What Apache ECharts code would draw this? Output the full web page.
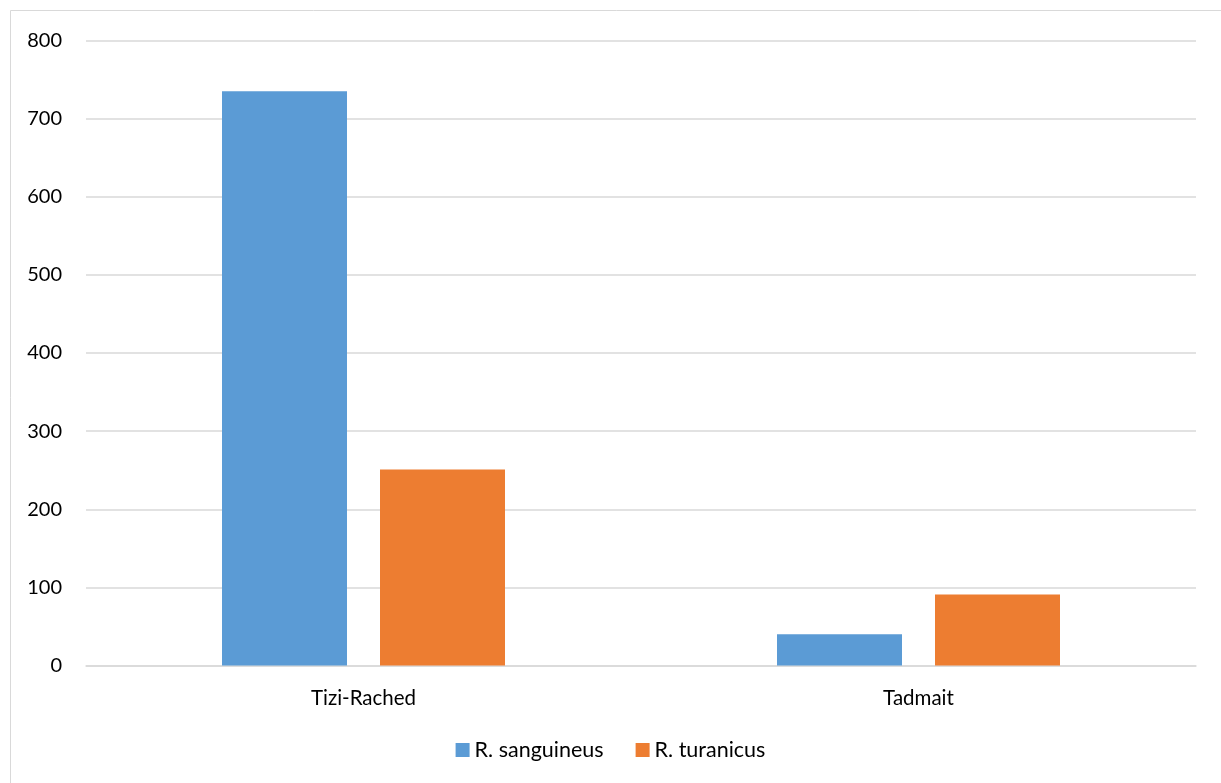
<!DOCTYPE html>
<html>
<head>
<meta charset="utf-8">
<script src="https://cdn.jsdelivr.net/npm/echarts@6/dist/echarts.min.js"></script>
<style>
  html, body { margin: 0; padding: 0; background: #fff; }
  #chart { width: 1221px; height: 783px; }
</style>
</head>
<body>
<div id="chart"></div>
<script>
// Tick counts per site for two Rhipicephalus species
const sites = ['Tizi-Rached', 'Tadmait'];
const sanguineus = [735, 40];
const turanicus = [251, 91];
const seriesNames = ['R. sanguineus', 'R. turanicus'];

const FONT = 'Lato, "Open Sans", sans-serif';
const chart = echarts.init(document.getElementById('chart'), null, { renderer: 'canvas' });

chart.setOption({
  animation: false,
  backgroundColor: '#ffffff',
  graphic: [{
    type: 'rect',
    shape: { x: 10.5, y: 10.5, width: 1400, height: 1000 },
    style: { fill: 'none', stroke: '#d9d9d9', lineWidth: 1 },
    silent: true
  }],
  grid: { left: 86, right: 25, top: 40.5, bottom: 117.5, containLabel: false },
  legend: {
    bottom: 17,
    left: 'center',
    itemWidth: 14,
    itemHeight: 14,
    itemGap: 32,
    icon: 'rect',
    textStyle: { fontFamily: FONT, fontSize: 21.5, color: '#000' },
    data: seriesNames
  },
  xAxis: {
    type: 'category',
    data: sites,
    axisLine: { lineStyle: { color: '#d9d9d9', width: 1.5 } },
    axisTick: { show: false },
    axisLabel: { fontFamily: FONT, fontSize: 20.5, color: '#000', margin: 22 }
  },
  yAxis: {
    type: 'value',
    min: 0,
    max: 800,
    interval: 100,
    axisLine: { show: false },
    axisTick: { show: false },
    splitLine: { lineStyle: { color: '#d9d9d9', width: 1.5 } },
    axisLabel: { fontFamily: FONT, fontSize: 20, color: '#000', margin: 24 }
  },
  series: [
    {
      name: seriesNames[0],
      type: 'bar',
      data: sanguineus,
      barWidth: 125,
      barGap: '26.4%',
      itemStyle: { color: '#5b9bd5' }
    },
    {
      name: seriesNames[1],
      type: 'bar',
      data: turanicus,
      barWidth: 125,
      itemStyle: { color: '#ed7d31' }
    }
  ]
});
</script>
</body>
</html>
